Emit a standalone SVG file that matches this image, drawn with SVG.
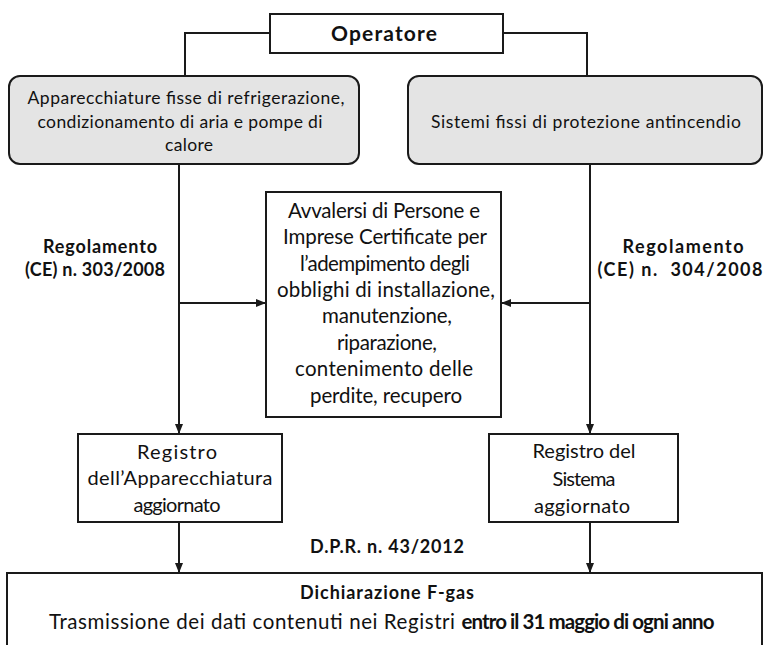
<svg xmlns="http://www.w3.org/2000/svg" width="764" height="645" viewBox="0 0 764 645">
<style>
text{font-family:Lato,"Open Sans","Liberation Sans",sans-serif;fill:#111;text-anchor:middle}
.b{font-weight:bold}
.box{fill:#fff;stroke:#1a1a1a;stroke-width:2}
.rbox{fill:#e4e4e4;stroke:#1a1a1a;stroke-width:2}
.ln{fill:none;stroke:#1a1a1a;stroke-width:2}
.arr{marker-end:url(#ah)}
.t16{font-size:17.5px}
.t17{font-size:20px}
.t18{font-size:20.5px}
.tb{font-size:18px}
</style>
<defs>
<marker id="ah" markerUnits="userSpaceOnUse" markerWidth="10" markerHeight="10" viewBox="0 0 10 10" refX="9" refY="5" orient="auto">
<path d="M0,1 L10,5 L0,9 z" fill="#1a1a1a"/>
</marker>
</defs>

<g id="connectors">
<polyline class="ln" points="270,33 185,33 185,76"/>
<polyline class="ln" points="503,33 587,33 587,76"/>
<line class="ln arr" x1="179" y1="164" x2="179" y2="433"/>
<line class="ln arr" x1="590" y1="164" x2="590" y2="433"/>
<line class="ln arr" x1="179" y1="303" x2="265" y2="303"/>
<line class="ln arr" x1="590" y1="303" x2="502" y2="303"/>
<line class="ln arr" x1="179" y1="522" x2="179" y2="572"/>
<line class="ln arr" x1="590" y1="522" x2="590" y2="572"/>
</g>

<g id="operatore">
<rect class="box" x="270" y="14" width="233" height="39"/>
<text class="b" style="font-size:21px" x="384" y="41" textLength="106">Operatore</text>
</g>

<g id="apparecchiature">
<rect class="rbox" x="9" y="76" width="350" height="88" rx="11"/>
<text class="t16" x="186" y="104" textLength="317">Apparecchiature fisse di refrigerazione,</text>
<text class="t16" x="180" y="128" textLength="285">condizionamento di aria e pompe di</text>
<text class="t16" x="189" y="151" textLength="48">calore</text>
</g>

<g id="sistemi">
<rect class="rbox" x="408" y="76" width="354" height="88" rx="11"/>
<text class="t16" x="586" y="128" textLength="310">Sistemi fissi di protezione antincendio</text>
</g>

<g id="reg303">
<text class="b tb" x="100" y="253" textLength="114">Regolamento</text>
<text class="b tb" x="95" y="276" textLength="140">(CE) n. 303/2008</text>
</g>

<g id="reg304">
<text class="b tb" x="683" y="253" textLength="121">Regolamento</text>
<text class="b tb" x="680" y="276" textLength="165" xml:space="preserve">(CE) n.  304/2008</text>
</g>

<g id="avvalersi">
<rect class="box" x="266" y="192" width="235" height="225"/>
<text class="t18" x="384" y="218" textLength="192">Avvalersi di Persone e</text>
<text class="t18" x="385" y="244" textLength="204">Imprese Certificate per</text>
<text class="t18" x="385" y="271" textLength="170">l’adempimento degli</text>
<text class="t18" x="386" y="297" textLength="218">obblighi di installazione,</text>
<text class="t18" x="387" y="323" textLength="130">manutenzione,</text>
<text class="t18" x="387" y="350" textLength="100">riparazione,</text>
<text class="t18" x="384" y="376" textLength="178">contenimento delle</text>
<text class="t18" x="386" y="403" textLength="152">perdite, recupero</text>
</g>

<g id="registro-app">
<rect class="box" x="78" y="434" width="204" height="88"/>
<text class="t17" x="177" y="459" textLength="80">Registro</text>
<text class="t17" x="180" y="485" textLength="185">dell’Apparecchiatura</text>
<text class="t17" x="177" y="512" textLength="87">aggiornato</text>
</g>

<g id="registro-sis">
<rect class="box" x="489" y="434" width="189" height="88"/>
<text class="t17" x="584" y="458" textLength="103">Registro del</text>
<text class="t17" x="584" y="486" textLength="63">Sistema</text>
<text class="t17" x="582" y="513" textLength="96">aggiornato</text>
</g>

<g id="dpr">
<text class="b tb" x="387" y="553" textLength="154">D.P.R. n. 43/2012</text>
</g>

<g id="dichiarazione">
<rect class="box" x="7" y="573" width="755" height="80"/>
<text class="b tb" x="387" y="599" textLength="174">Dichiarazione F-gas</text>
<text class="t18" x="252" y="629" textLength="406">Trasmissione dei dati contenuti nei Registri</text>
<text class="b t18" x="588" y="629" textLength="253">entro il 31 maggio di ogni anno</text>
</g>
</svg>
